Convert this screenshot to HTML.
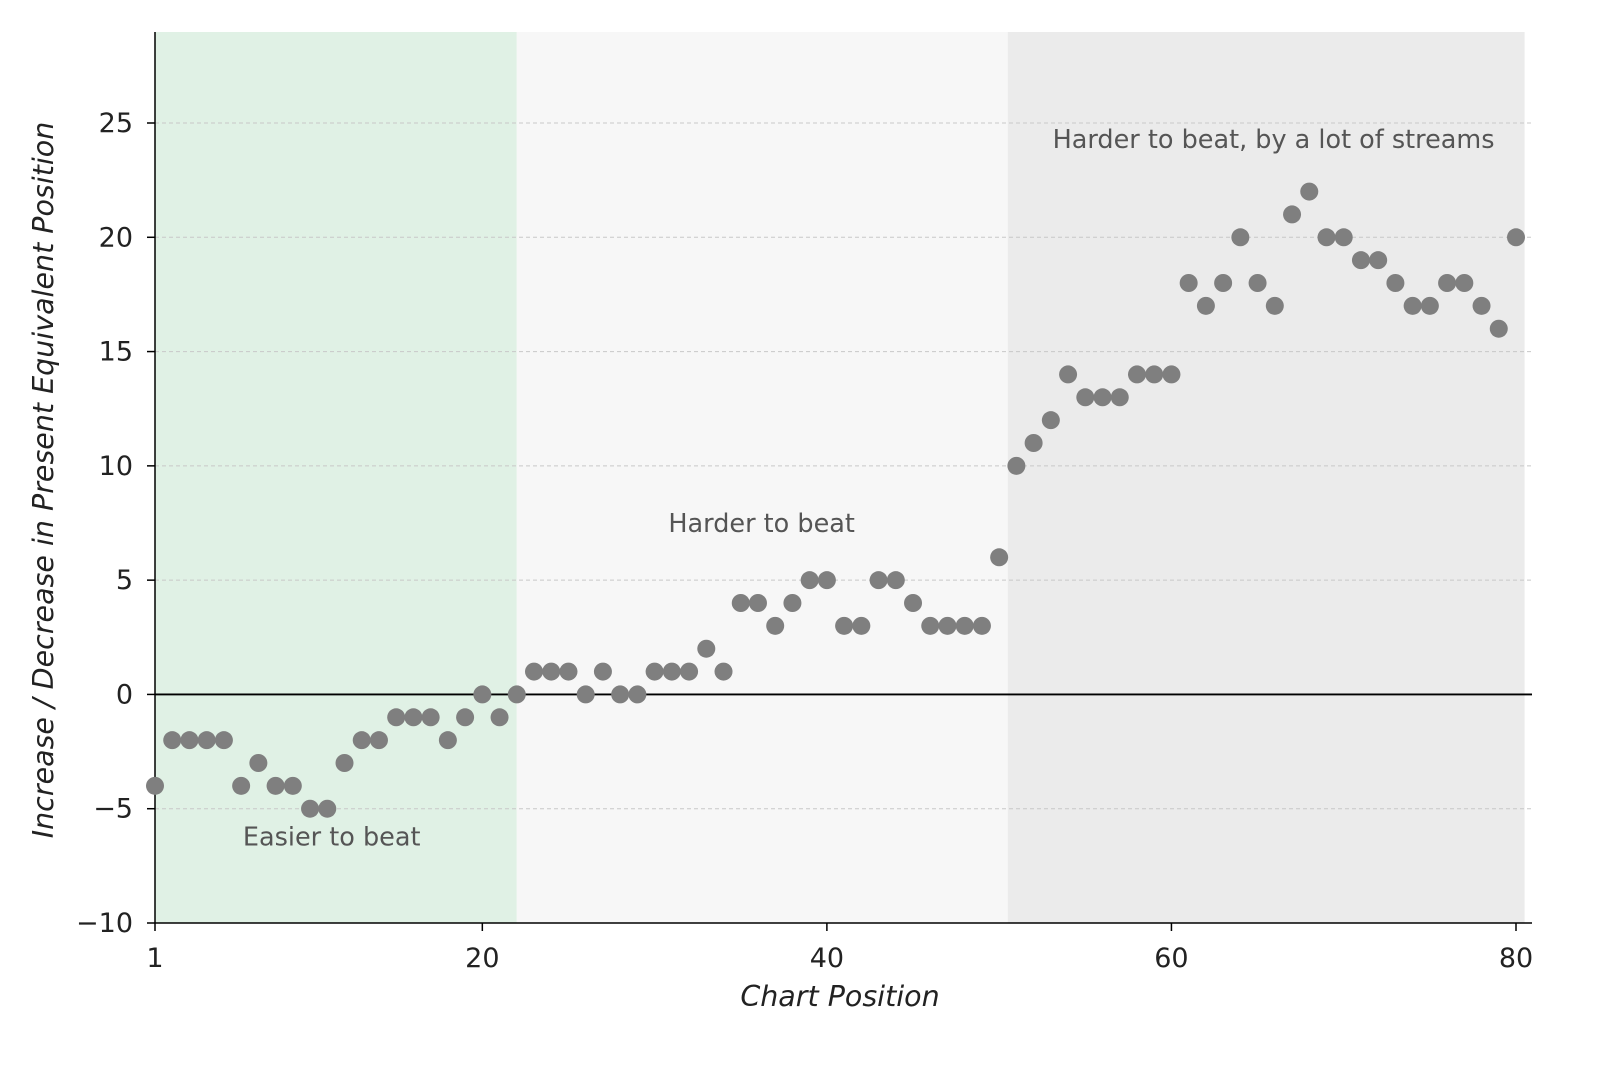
<!DOCTYPE html>
<html><head><meta charset="utf-8"><style>
body{margin:0;background:#fff;}
svg{display:block;font-family:"DejaVu Sans","Liberation Sans",sans-serif;}
</style></head><body>
<svg id="chart" width="1600" height="1066" viewBox="0 0 1600 1066"></svg>
<script>
const positions=[];for(let i=1;i<=80;i++)positions.push(i);
const changes=[-4,-2,-2,-2,-2,-4,-3,-4,-4,-5,-5,-3,-2,-2,-1,-1,-1,-2,-1,0,-1,0,1,1,1,0,1,0,0,1,1,1,2,1,4,4,3,4,5,5,3,3,5,5,4,3,3,3,3,6,10,11,12,14,13,13,13,14,14,14,18,17,18,20,18,17,21,22,20,20,19,19,18,17,17,18,18,17,16,20];
const yTicks=[-10,-5,0,5,10,15,20,25];
const xTicks=[1,20,40,60,80];
const regions=[{from:1,to:22,fill:"#e0f1e5",name:"easier-region"},{from:22,to:50.5,fill:"#f7f7f7",name:"harder-region"},{from:50.5,to:80.5,fill:"#ebebeb",name:"much-harder-region"}];
const notes=[{x:6.1,y:-6.6,t:"Easier to beat"},{x:30.8,y:7.1,t:"Harder to beat"},{x:53.1,y:23.9,t:"Harder to beat, by a lot of streams"}];

const svg=document.getElementById('chart');const NS='http://www.w3.org/2000/svg';
const X0=155,X1=1516,Y0=923,Y1=123;
const sx=v=>X0+(v-1)*(X1-X0)/79;
const sy=v=>Y0+(v+10)*(Y1-Y0)/35;
function mk(tag,attrs,parent){const e=document.createElementNS(NS,tag);for(const k in attrs)e.setAttribute(k,attrs[k]);(parent||svg).appendChild(e);return e;}
regions.forEach(r=>{const e=mk('rect',{x:sx(r.from),y:32,width:sx(r.to)-sx(r.from),height:Y0-32,fill:r.fill});

});
yTicks.forEach(v=>{if(v>-10&&v!==0){const g=mk('line',{x1:X0,x2:1532,y1:sy(v),y2:sy(v),stroke:'#c8c8c8','stroke-dasharray':'4,3','stroke-width':1});

}
mk('line',{x1:X0-8,x2:X0,y1:sy(v),y2:sy(v),stroke:'#000','stroke-width':1.5});
const t=mk('text',{x:X0-22,y:sy(v)+9,'text-anchor':'end','font-size':27,fill:'#222'});t.textContent=v<0?'\u2212'+(-v):v;

});
const z=mk('line',{x1:X0,x2:1532,y1:sy(0),y2:sy(0),stroke:'#000','stroke-width':1.8});


xTicks.forEach(v=>{mk('line',{x1:sx(v),x2:sx(v),y1:Y0,y2:Y0+8,stroke:'#000','stroke-width':1.5});
const t=mk('text',{x:sx(v),y:Y0+44,'text-anchor':'middle','font-size':27,fill:'#222'});t.textContent=v;

});
const ya=mk('line',{x1:X0,x2:X0,y1:32,y2:Y0,stroke:'#000','stroke-width':1.5});


const xa=mk('line',{x1:X0,x2:1532,y1:Y0,y2:Y0,stroke:'#000','stroke-width':1.5});


positions.forEach((p,i)=>{const c=mk('circle',{cx:sx(p),cy:sy(changes[i]),r:9,fill:'#7f7f7f'});

});
notes.forEach(n=>{const t=mk('text',{x:sx(n.x),y:sy(n.y),'font-size':25.5,fill:'#555'});t.textContent=n.t;

});
const xt=mk('text',{x:840,y:1006,'text-anchor':'middle','font-size':28.5,'font-style':'italic',fill:'#222'});xt.textContent='Chart Position';


const yt=mk('text',{x:0,y:0,'text-anchor':'middle','font-size':28.5,'font-style':'italic',fill:'#222',transform:'translate(53,480) rotate(-90)'});yt.textContent='Increase / Decrease in Present Equivalent Position';


</script>
</body></html>
